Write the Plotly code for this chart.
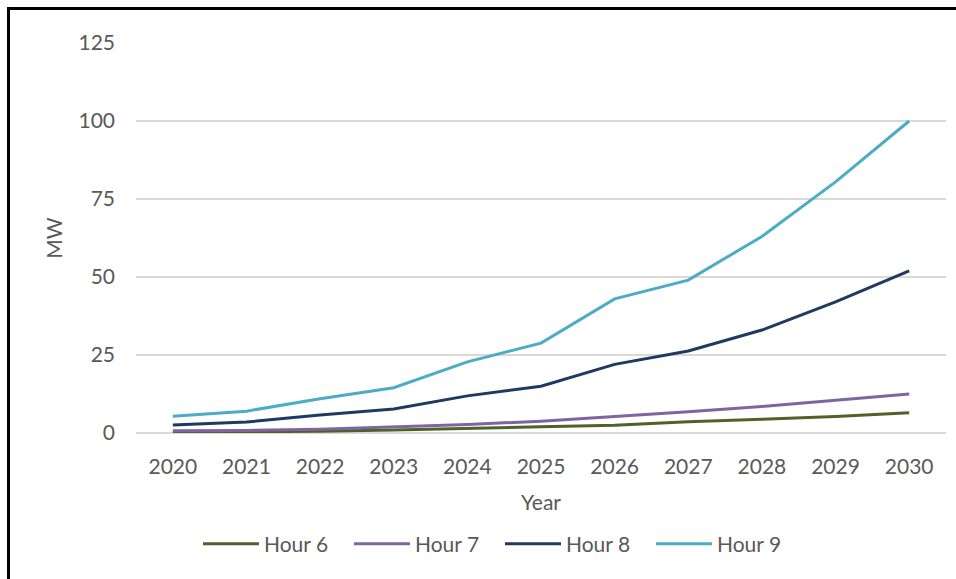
import plotly.graph_objects as go

# Load forecast by hour of day, MW
years = [2020, 2021, 2022, 2023, 2024, 2025, 2026, 2027, 2028, 2029, 2030]
hour6 = [0.1, 0.3, 0.6, 1.0, 1.4, 2.0, 2.5, 3.6, 4.4, 5.3, 6.5]
hour7 = [0.7, 0.8, 1.2, 2.0, 2.7, 3.8, 5.2, 6.8, 8.5, 10.5, 12.5]
hour8 = [2.6, 3.5, 5.8, 7.7, 11.9, 15.0, 22.0, 26.3, 33.0, 42.0, 52.0]
hour9 = [5.4, 7.0, 11.0, 14.5, 22.8, 28.8, 43.0, 49.0, 63.0, 80.5, 100.0]

series = [
    ("Hour 6", hour6, "#4F6228"),
    ("Hour 7", hour7, "#8064A2"),
    ("Hour 8", hour8, "#1F3A60"),
    ("Hour 9", hour9, "#4BACC6"),
]

W, H = 956, 579
ML, MR, MT, MB = 136, 10, 43, 146
pw, ph = W - ML - MR, H - MT - MB

FONT = "Lato, 'Open Sans', sans-serif"
TXT = "#595959"
FS = 21

fig = go.Figure()
for name, vals, color in series:
    fig.add_trace(go.Scatter(
        x=years, y=vals, name=name, mode="lines",
        line=dict(color=color, width=3),
    ))

def px_x(p):
    return (p - ML) / pw

def px_y(p):
    return 1 - (p - MT) / ph

fig.update_layout(
    width=W, height=H,
    margin=dict(l=ML, r=MR, t=MT, b=MB),
    paper_bgcolor="white", plot_bgcolor="white",
    font=dict(family=FONT, size=FS, color=TXT),
    showlegend=True,
    legend=dict(
        orientation="h", x=px_x(198), xanchor="left",
        y=px_y(544), yanchor="middle",
        font=dict(size=FS, color=TXT),
        itemwidth=56, entrywidth=80, entrywidthmode="pixels",
        tracegroupgap=0,
    ),
    xaxis=dict(
        range=[2019.5, 2030.5], tickmode="array", tickvals=years,
        ticktext=[str(y) for y in years],
        showgrid=False, zeroline=False, showline=False, ticks="",
        ticklen=0, tickfont=dict(size=FS, color=TXT),
        ticklabelstandoff=19,
        title=dict(text="Year", font=dict(size=FS, color=TXT), standoff=18),
    ),
    yaxis=dict(
        range=[0, 125], tickvals=[0, 25, 50, 75, 100, 125],
        showgrid=True, gridcolor="#D9D9D9", gridwidth=2,
        zeroline=True, zerolinecolor="#D9D9D9", zerolinewidth=2,
        showline=False, ticks="", tickfont=dict(size=FS, color=TXT),
        ticklabelstandoff=20,
        title=dict(text="MW", font=dict(size=FS, color=TXT), standoff=10),
    ),
    shapes=[dict(
        type="rect", xref="paper", yref="paper",
        x0=px_x(8.5), x1=px_x(W + 20), y0=px_y(H + 20), y1=px_y(8.5),
        line=dict(color="black", width=3), fillcolor="rgba(0,0,0,0)",
        layer="above",
    )],
)

fig.write_html("out.html")
